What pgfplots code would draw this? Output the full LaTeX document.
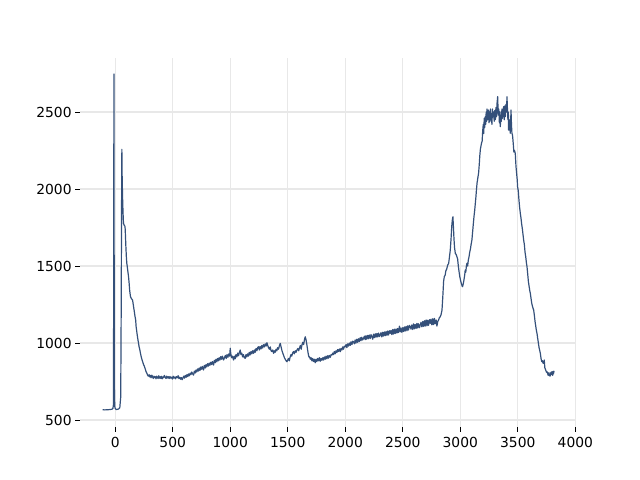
\documentclass[border=0pt]{standalone}
\usepackage{pgfplots}
\pgfplotsset{compat=1.18}
\usepackage{fontspec}
\setmainfont{DejaVu Sans}
\definecolor{linec}{HTML}{34507A}
\definecolor{gridc}{HTML}{E8E8E8}
\begin{document}
\begin{tikzpicture}
\begin{axis}[
  name=ax,
  scale only axis,
  width=496bp, height=369bp,
  xmin=-306, xmax=4006, ymin=455, ymax=2851,
  xtick={0,500,...,4000}, ytick={500,1000,...,2500},
  axis line style={draw=none},
  grid=major,
  major grid style={draw=gridc, line width=1.2bp},
  tick align=outside,
  tick pos=left,
  major tick length=4.9bp,
  tick style={black, line width=0.8bp},
  ticklabel style={font=\fontsize{13.9}{16}\selectfont},
  xticklabel style={yshift=-1.5bp},
  /pgf/number format/assume math mode=true,
  /pgf/number format/1000 sep={},
  clip=false,
]
\addplot[linec, line width=1.2bp, mark=none, line join=round] coordinates {
(-110,567) (-90,566) (-70,567) (-50,568) (-30,570) (-20,575) (-15,600) (-13,1500) (-11,2747) (-9,1500) (-7,700) (-4,590) (0,575) (10,568) (20,570) (30,572) (40,580) (48,650) (52,1200) (56,2000) (58,2258) (60,2100) (64,1950) (68,1850) (72,1777) (78,1765) (84,1760) (87,1740) (92,1640) (97,1560) (101,1518) (106,1490) (111,1460) (116,1431) (121,1390) (126,1340) (133,1301) (140,1290) (145,1285) (151,1279) (157,1250) (163,1220) (168,1195) (173,1170) (178,1150) (182,1105) (186,1084) (190,1060) (194,1040) (198,1020) (203,998) (208,975) (213,960) (218,940) (222,925) (226,911) (232,895) (238,880) (244,866) (250,855) (255,846) (262,830) (268,815) (275,805) (281,792) (288,785) (295,795) (300,780) (306,790) (312,775) (319,792) (325,780) (331,770) (337,785) (343,775) (349,782) (355,768) (361,785) (367,775) (373,770) (379,788) (385,772) (391,781) (397,770) (403,784) (409,768) (415,780) (421,775) (427,790) (435,778) (442,770) (448,785) (455,773) (462,782) (469,770) (476,783) (483,772) (490,778) (497,766) (504,785) (511,772) (518,780) (525,768) (532,782) (540,775) (547,788) (554,770) (561,778) (568,765) (575,776) (582,762) (589,774) (596,785) (603,772) (610,790) (617,778) (624,795) (631,782) (638,800) (645,788) (652,805) (659,795) (666,812) (673,800) (681,792) (688,818) (695,805) (702,825) (709,812) (716,832) (723,818) (730,838) (737,822) (744,845) (751,830) (758,848) (768,825) (775,855) (782,838) (789,860) (796,845) (803,866) (810,850) (817,870) (824,856) (831,875) (838,860) (845,880) (855,857) (862,888) (869,872) (876,895) (883,878) (890,900) (897,885) (904,905) (911,890) (918,912) (925,895) (932,915) (942,890) (950,905) (958,920) (965,900) (972,925) (980,908) (988,930) (995,915) (1000,966) (1005,930) (1012,905) (1020,915) (1029,890) (1036,915) (1043,898) (1050,925) (1058,910) (1065,935) (1072,918) (1080,940) (1087,955) (1093,925) (1100,935) (1108,910) (1115,925) (1122,905) (1130,901) (1137,925) (1144,910) (1151,930) (1158,915) (1165,940) (1172,922) (1180,945) (1187,930) (1195,950) (1203,933) (1210,955) (1217,940) (1224,965) (1232,950) (1239,972) (1246,976) (1253,955) (1260,978) (1268,962) (1275,985) (1282,968) (1290,990) (1297,975) (1305,995) (1312,980) (1319,1002) (1326,985) (1333,970) (1340,960) (1348,975) (1355,950) (1362,945) (1370,955) (1377,933) (1384,950) (1391,940) (1398,960) (1405,950) (1412,970) (1420,960) (1428,985) (1435,998) (1442,975) (1450,950) (1457,935) (1464,920) (1471,905) (1478,895) (1486,885) (1493,879) (1500,890) (1507,900) (1514,885) (1521,910) (1528,925) (1535,915) (1542,935) (1550,945) (1557,930) (1565,950) (1572,940) (1580,955) (1588,965) (1595,950) (1603,970) (1610,985) (1617,960) (1624,990) (1631,1005) (1638,990) (1645,1020) (1652,1041) (1658,1025) (1664,1000) (1670,970) (1677,935) (1684,910) (1690,911) (1696,895) (1703,905) (1710,885) (1717,900) (1724,880) (1731,895) (1739,872) (1746,895) (1753,880) (1760,900) (1768,885) (1775,905) (1782,882) (1790,900) (1797,888) (1805,905) (1812,890) (1819,910) (1826,895) (1833,915) (1840,898) (1848,918) (1855,902) (1862,920) (1870,908) (1877,925) (1884,922) (1891,935) (1898,925) (1905,945) (1912,930) (1920,950) (1927,938) (1934,958) (1941,945) (1950,962) (1957,944) (1964,965) (1971,955) (1978,975) (1985,960) (1992,980) (2000,976) (2007,990) (2014,970) (2021,995) (2028,980) (2036,1000) (2043,985) (2050,1008) (2058,990) (2065,1012) (2072,1008) (2079,995) (2086,1020) (2093,1000) (2101,1025) (2108,1005) (2115,1028) (2122,1010) (2130,1035) (2137,1015) (2144,1038) (2151,1020) (2159,1030) (2166,1045) (2173,1022) (2180,1048) (2187,1025) (2195,1050) (2202,1028) (2209,1052) (2217,1030) (2224,1055) (2232,1041) (2239,1025) (2246,1058) (2253,1035) (2261,1060) (2268,1038) (2275,1062) (2282,1040) (2290,1065) (2297,1042) (2304,1052) (2311,1068) (2318,1040) (2326,1070) (2333,1045) (2340,1072) (2347,1048) (2355,1075) (2362,1050) (2369,1078) (2376,1052) (2384,1080) (2391,1063) (2398,1082) (2405,1055) (2413,1088) (2420,1058) (2427,1090) (2434,1062) (2442,1092) (2449,1065) (2456,1095) (2463,1068) (2471,1110) (2478,1073) (2485,1098) (2492,1070) (2500,1100) (2507,1075) (2514,1105) (2521,1078) (2529,1108) (2536,1080) (2543,1112) (2550,1085) (2558,1115) (2565,1106) (2572,1090) (2579,1118) (2587,1088) (2594,1125) (2601,1092) (2608,1120) (2616,1095) (2623,1128) (2630,1098) (2637,1125) (2645,1100) (2652,1117) (2659,1135) (2666,1105) (2674,1140) (2681,1108) (2688,1145) (2695,1110) (2703,1150) (2710,1112) (2717,1148) (2724,1115) (2732,1152) (2739,1128) (2746,1155) (2753,1118) (2761,1158) (2768,1120) (2775,1160) (2782,1125) (2790,1150) (2797,1110) (2804,1140) (2811,1149) (2818,1165) (2826,1171) (2833,1185) (2841,1214) (2848,1300) (2855,1400) (2861,1431) (2868,1440) (2875,1470) (2882,1480) (2890,1505) (2899,1518) (2906,1560) (2913,1604) (2920,1680) (2926,1760) (2931,1800) (2936,1820) (2940,1760) (2945,1680) (2950,1620) (2957,1582) (2964,1575) (2971,1560) (2977,1545) (2983,1500) (2990,1460) (2996,1430) (3003,1405) (3010,1385) (3016,1370) (3020,1366) (3026,1385) (3032,1410) (3038,1440) (3043,1474) (3048,1460) (3053,1500) (3058,1518) (3064,1500) (3070,1540) (3076,1560) (3082,1590) (3088,1610) (3094,1640) (3101,1669) (3107,1720) (3113,1770) (3119,1820) (3125,1860) (3130,1900) (3136,1950) (3141,2000) (3146,2040) (3152,2070) (3159,2102) (3165,2160) (3170,2220) (3175,2260) (3180,2280) (3185,2300) (3190,2310) (3195,2380) (3200,2420) (3204,2360) (3208,2460) (3212,2400) (3217,2470) (3221,2420) (3225,2500) (3229,2440) (3233,2520) (3237,2450) (3241,2500) (3246,2513) (3250,2430) (3254,2500) (3258,2440) (3262,2520) (3266,2450) (3270,2490) (3275,2420) (3280,2520) (3285,2470) (3290,2500) (3295,2440) (3300,2510) (3305,2450) (3310,2530) (3315,2470) (3320,2560) (3325,2600) (3330,2480) (3335,2520) (3340,2430) (3345,2500) (3348,2405) (3352,2480) (3357,2440) (3362,2520) (3367,2460) (3372,2500) (3377,2535) (3382,2450) (3387,2540) (3392,2470) (3397,2550) (3402,2500) (3406,2600) (3410,2520) (3414,2450) (3418,2500) (3420,2383) (3425,2450) (3430,2400) (3435,2362) (3441,2513) (3445,2420) (3449,2362) (3454,2350) (3460,2300) (3466,2240) (3472,2250) (3478,2232) (3484,2150) (3490,2100) (3495,2060) (3498,2015) (3504,1990) (3510,1930) (3516,1880) (3522,1842) (3528,1810) (3534,1770) (3540,1740) (3546,1700) (3551,1669) (3557,1640) (3563,1590) (3569,1560) (3575,1520) (3580,1496) (3586,1450) (3592,1400) (3598,1370) (3604,1340) (3609,1323) (3615,1290) (3621,1260) (3627,1240) (3633,1225) (3638,1214) (3644,1180) (3650,1140) (3656,1110) (3662,1080) (3667,1063) (3673,1030) (3679,1000) (3685,970) (3691,950) (3696,933) (3702,900) (3708,880) (3714,885) (3719,870) (3725,868) (3730,890) (3735,840) (3740,830) (3745,820) (3750,810) (3754,814) (3760,800) (3765,790) (3770,808) (3775,795) (3780,785) (3783,792) (3788,810) (3793,795) (3798,815) (3803,790) (3806,814) (3810,800) (3815,820)
};
\end{axis}
\path ([xshift=-80bp,yshift=-53bp]ax.south west) rectangle ([xshift=64bp,yshift=58bp]ax.north east);
\end{tikzpicture}
\end{document}
